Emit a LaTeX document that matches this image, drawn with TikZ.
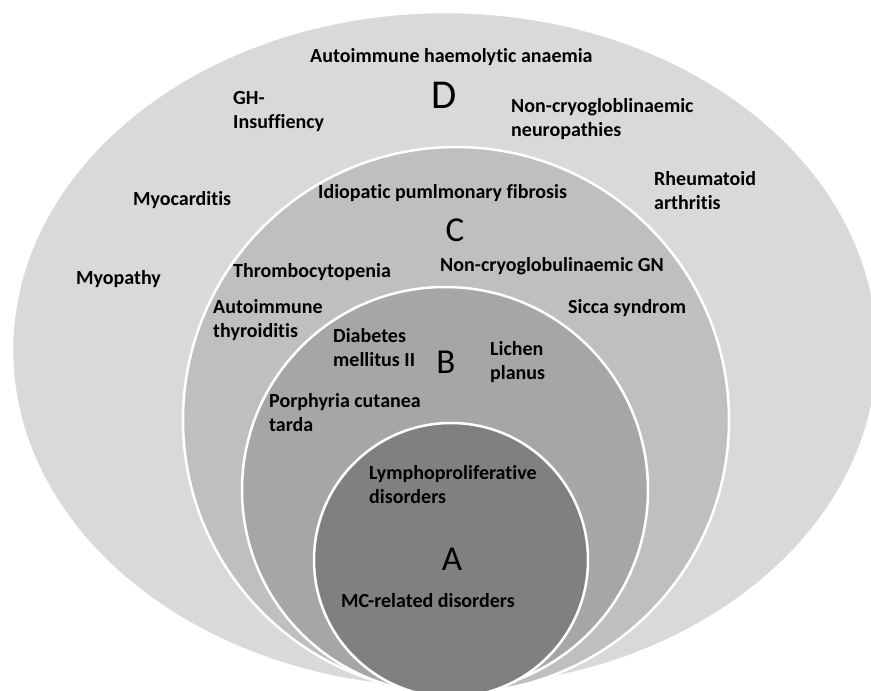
\documentclass[tikz,border=0pt]{standalone}
\usepackage{fontspec}
\setmainfont{Carlito}[Ligatures=NoCommon]
\usepackage{xcolor}
\definecolor{ringD}{HTML}{D9D9D9}
\definecolor{ringC}{HTML}{BFBFBF}
\definecolor{ringB}{HTML}{A6A6A6}
\definecolor{ringA}{HTML}{808080}

\begin{document}
\begin{tikzpicture}[x=1pt,y=-1pt,
    ring/.style={fill=#1, draw=white, line width=2.5pt},
    disease/.style={font=\fontsize{20}{24}\selectfont\bfseries, align=left, anchor=west, inner sep=0pt},
    tier/.style={font=\fontsize{35}{40}\selectfont, inner sep=0pt}]
        % Nested targets, all touching near the bottom edge (y ~ 690).
        % D: ellipse 866 x 676, C, B, A: circles of radius 273, 203, 137.
        \useasboundingbox (0,0) rectangle (871,691);
        \clip (0,0) rectangle (871,691);

        \coordinate (OD) at (445,350);
        \coordinate (OC) at (456,420);
        \coordinate (OB) at (445,490);
        \coordinate (OA) at (451,560);

        \draw[ring=ringD] (OD) ellipse [x radius=433pt, y radius=338pt];
        \draw[ring=ringC] (OC) circle (273pt);
        \draw[ring=ringB] (OB) circle (203pt);
        \draw[ring=ringA] (OA) circle (137pt);

        % D
        \node[tier, font=\fontsize{41}{45}\selectfont] (letD) at (444,95) {D};
        \node[disease] (haemo) at (310,57) {Autoimmune haemolytic anaemia};
        \node[disease] (ghins) at (233,112) {GH-\\Insuffiency};
        \node[disease] (neuro) at (511,119.5) {Non-cryogloblinaemic\\neuropathies};
        \node[disease] (rheum) at (654,191) {Rheumatoid\\arthritis};
        \node[disease] (myoc) at (133,200) {Myocarditis};
        \node[disease] (myop) at (76,279) {Myopathy};

        % C
        \node[tier] (letC) at (455,230) {C};
        \node[disease] (ipf) at (318,193) {Idiopatic pumlmonary fibrosis};
        \node[disease] (thromb) at (233,272) {Thrombocytopenia};
        \node[disease] (ncgn) at (440,266) {Non-cryoglobulinaemic GN};
        \node[disease] (thyro) at (213,320) {Autoimmune\\thyroiditis};
        \node[disease] (sicca) at (568,308) {Sicca syndrom};

        % B
        \node[tier] (letB) at (446,362) {B};
        \node[disease] (diab) at (333,348) {Diabetes\\mellitus II};
        \node[disease] (lichen) at (490,362) {Lichen\\planus};
        \node[disease] (pct) at (269,412.5) {Porphyria cutanea\\tarda};

        % A
        \node[tier] (letA) at (452,559) {A};
        \node[disease] (lympho) at (369,484.5) {Lymphoproliferative\\disorders};
        \node[disease] (mcrel) at (341,601) {MC-related disorders};

    \end{tikzpicture}
\end{document}
